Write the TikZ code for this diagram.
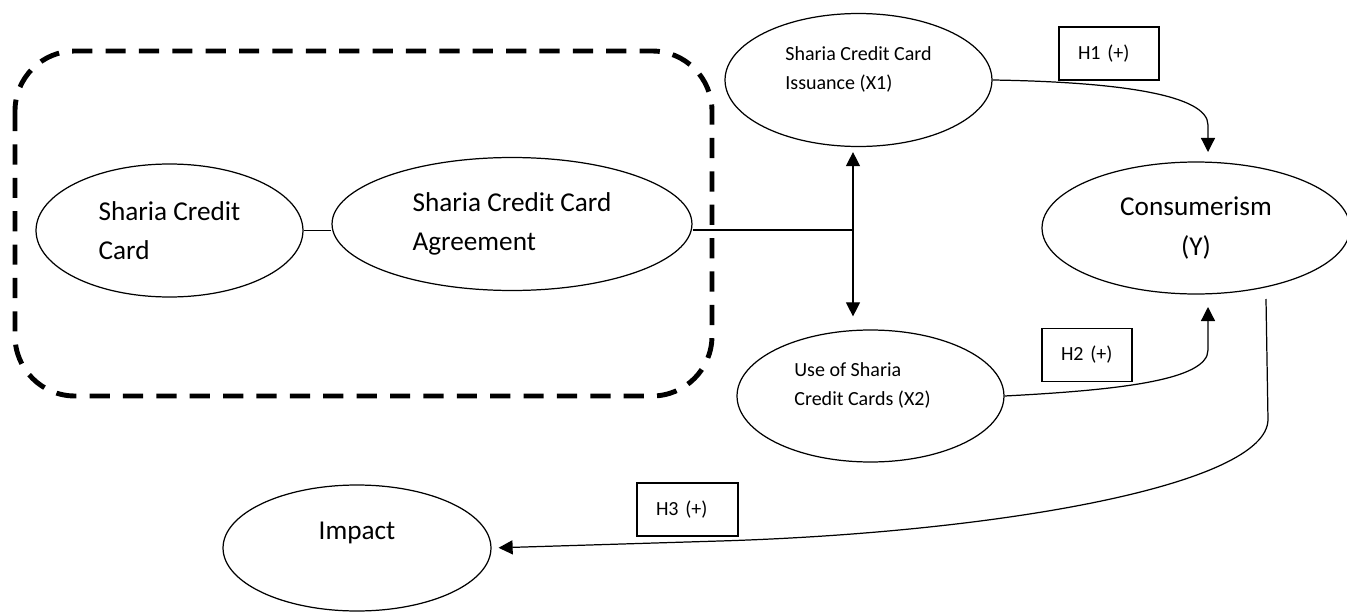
\documentclass[tikz,border=0pt]{standalone}
\usepackage{fontspec}
\setmainfont{Carlito}
\usetikzlibrary{shapes.geometric, arrows.meta, positioning}

\tikzset{
  oval/.style={draw, ellipse, line width=0.7pt, minimum width=5.34cm, minimum height=2.66cm, inner sep=0pt},
  bigtxt/.style={font=\fontsize{15.5}{22.4}\selectfont, align=left},
  smalltxt/.style={font=\fontsize{11.4}{16.5}\selectfont, align=left},
  hbox/.style={draw, rectangle, line width=0.7pt, minimum height=1.06cm, inner xsep=0.38cm, inner ysep=0pt, smalltxt},
  link/.style={line width=0.7pt},
  group/.style={line width=2.8pt, dash pattern=on 11.5pt off 7.5pt, rounded corners=1.2cm}
}

\begin{document}
\begin{tikzpicture}[>={Triangle[length=8pt, width=8pt]}, x=0.02cm, y=-0.02cm]
    \useasboundingbox (0,0) rectangle (1347,612);

    % Dashed group
    \draw[group] (15,51) rectangle (712,396);

    % Card and agreement
    \node[oval, bigtxt] (card) at (169.5,230.5) {Sharia Credit\\Card};
    \node[oval, bigtxt, minimum width=7.2cm] (agree) at (512,224) {Sharia Credit Card\\Agreement};

    % Issuance and use
    \node[oval] (iss) at (858.5,80) {};
    \node[smalltxt] (isstxt) at ([yshift=0.21cm]iss.center) {Sharia Credit Card\\Issuance (X1)};
    \node[oval, minimum height=2.64cm] (use) at (870.5,396) {};
    \node[smalltxt] (usetxt) at ([xshift=-0.16cm, yshift=0.21cm]use.center) {Use of Sharia\\Credit Cards (X2)};

    % Consumerism and impact
    \node[oval, bigtxt, align=center, minimum width=6.16cm, minimum height=2.64cm] (cons) at (1196,228) {Consumerism\\(Y)};
    \node[oval, minimum width=5.36cm, minimum height=2.52cm] (imp) at (357,548) {};
    \node[bigtxt] (imptxt) at ([yshift=0.3cm]imp.center) {Impact};

    % Hypothesis boxes
    \foreach \name/\x/\y/\tw/\txt in {h1/1109/53.5/1.24/{H1 (+)}, h2/1087/355/1.04/{H2 (+)}, h3/687.5/509.5/1.26/{H3 (+)}} {
        \node[hbox, text width=\tw cm] (\name) at (\x,\y) {\txt};
    }

    % Links to the junction
    \coordinate (jn) at (853,230);
    \draw[link] (card.east) -- (card.east -| agree.west);
    \draw[link] (agree.east |- jn) -- (jn);
    \draw[link, ->, shorten >=0.1cm] (jn) -- (jn |- iss.south);
    \draw[link, ->, shorten >=0.26cm] (jn) -- (jn |- use.north);

    % Hypothesis paths
    \coordinate (constop) at (1208,152);
    \coordinate (consbot) at (1208,307);
    \coordinate (consout) at (1266,299);
    \draw[link, ->] (iss.east) .. controls (1120,82) and (1208,95) .. (1208,125) -- (constop);
    \draw[link, ->] (use.east) .. controls (1120,390) and (1208,380) .. (1208,350) -- (consbot);
    \draw[link, ->, shorten >=0.14cm] (consout) -- (1268,420) .. controls (1266,485) and (1000,532.4) .. (720,541) -- (imp.east);
\end{tikzpicture}
\end{document}
